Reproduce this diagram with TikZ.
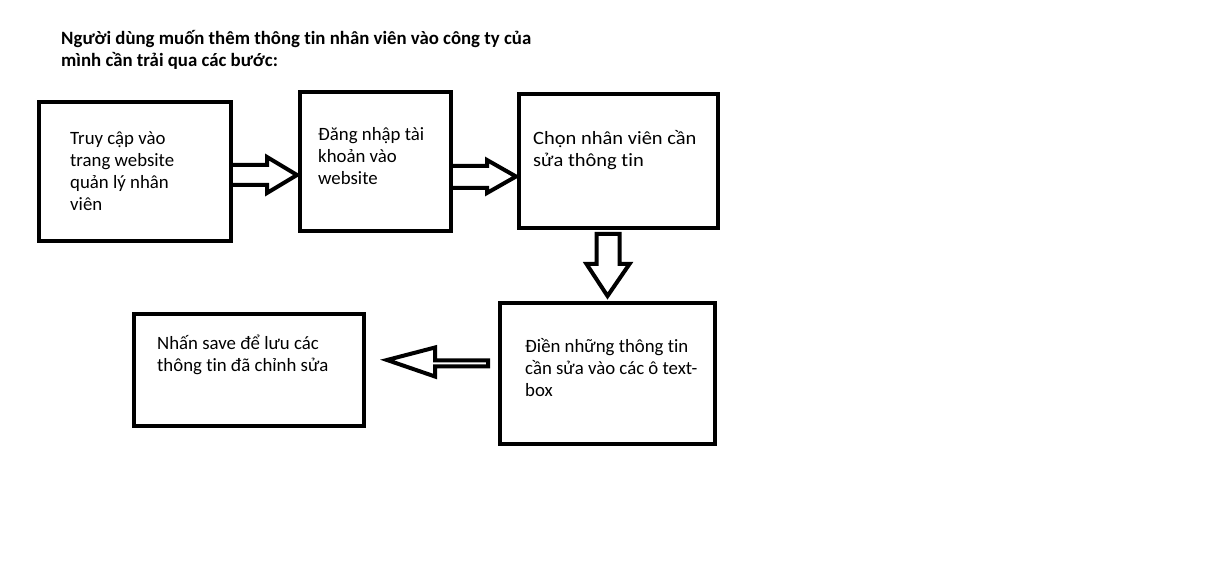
\documentclass[tikz,border=0pt]{standalone}
\usepackage{fontspec}
\setmainfont{Carlito}[RawFeature={-liga}]
\newfontfamily\widefont[FakeStretch=1.09,RawFeature={-liga}]{Carlito}
\usetikzlibrary{calc}
\newcommand\mlines[1]{\begin{tabular}[t]{@{}l@{}}#1\end{tabular}}
\begin{document}
\begin{tikzpicture}[x=1pt,y=-1pt,
  box/.style={draw, line width=4pt, inner sep=0pt, rectangle},
  txt/.style={anchor=base west, inner sep=0pt, font=\fontsize{18.8}{21.8}\selectfont},
  ttl/.style={anchor=base west, inner sep=0pt, font=\bfseries\fontsize{18.8}{21.5}\selectfont},
  barrow/.style={draw, line width=4pt, line join=miter, miter limit=10}]
\useasboundingbox (0,0) rectangle (1211,561);
% boxes (stroke centre lines)
\node[box, minimum width=192, minimum height=139] (b1) at (135,171.5) {};
\node[box, minimum width=151, minimum height=139] (b2) at (375.5,161.5) {};
\node[box, minimum width=199, minimum height=134] (b3) at (618.5,161) {};
\node[box, minimum width=215, minimum height=141] (b4) at (607.5,373.5) {};
\node[box, minimum width=230, minimum height=112] (b5) at (249,370) {};
% title
\node[ttl] (title) at (61,45) {\mlines{Người dùng muốn thêm thông tin nhân viên vào công ty của\\mình cần trải qua các bước:}};
% texts
\node[txt] (t1) at (70,145) {\mlines{Truy cập vào\\trang website\\quản lý nhân\\viên}};
\node[txt] (t2) at (318,141) {\mlines{Đăng nhập tài\\khoản vào\\website}};
\node[txt, font=\widefont\fontsize{18.8}{22}\selectfont] (t3) at (533,145) {\mlines{Chọn nhân viên cần\\sửa thông tin}};
\node[txt] (t4) at (525,353) {\mlines{Điền những thông tin\\cần sửa vào các ô text-\\box}};
\node[txt] (t5) at (157,350) {\mlines{Nhấn save để lưu các\\thông tin đã chỉnh sửa}};
% block arrows between boxes
\draw[barrow] ($(b1.east)+(0,-6.5)$) -- ++(34,0) -- ++(0,-8) -- ($(b2.west)+(-1,13.5)$)
  -- ($(b1.east)+(34,21.5)$) -- ++(0,-8) -- ($(b1.east)+(0,13.5)$);
\draw[barrow] ($(b2.east)+(0,4.5)$) -- ++(34,0) -- ++(0,-6) -- ($(b3.west)+(-1,15.5)$)
  -- ($(b2.east)+(34,31.5)$) -- ++(0,-5) -- ($(b2.east)+(0,26.5)$);
\draw[barrow] ($(b3.south)+(-22,4)$) -- ++(0,30) -- ++(-10,0) -- ($(b4.north)+(0,-5)$)
  -- ($(b3.south)+(11,34)$) -- ++(-10,0) -- ++(0,-30) -- cycle;
\draw[barrow] ($(b4.west)+(-10,-13)$) -- ($(b4.west)+(-63,-13)$) -- ($(b4.west)+(-63,-26)$)
  -- ($(b5.east)+(21,-10)$) -- ($(b4.west)+(-63,3)$) -- ($(b4.west)+(-63,-7)$)
  -- ($(b4.west)+(-10,-7)$) -- cycle;
\end{tikzpicture}
\end{document}
